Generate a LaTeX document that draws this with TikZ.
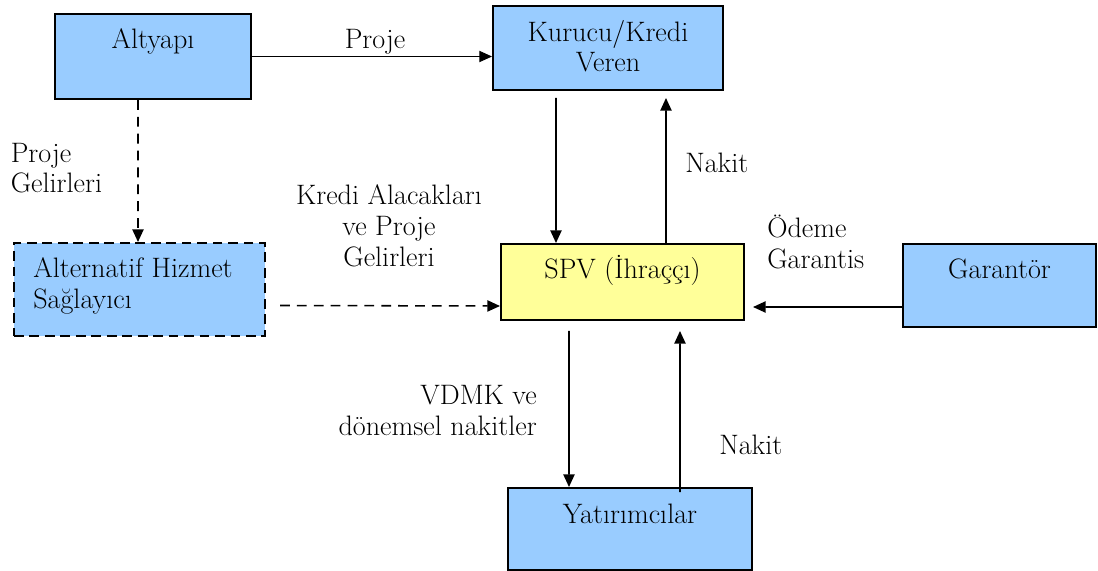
\documentclass[tikz,border=0pt]{standalone}
\usepackage{fontspec}
\usepackage{tikz}
\usetikzlibrary{positioning,calc,arrows.meta}
\definecolor{boxblue}{RGB}{153,204,255}
\definecolor{boxyellow}{RGB}{255,255,153}
\tikzset{
box/.style={draw, line width=1.4pt, fill=boxblue, inner sep=0pt},
lbl/.style={font=\fontsize{20}{22}\selectfont, inner sep=0pt},
arr/.style={-{Triangle[length=9pt,width=8pt]}, line width=1.1pt},
dsh/.style={arr, dash pattern=on 7pt off 5pt}
}
\begin{document}
\begin{tikzpicture}[x=0.025cm,y=-0.025cm]
\useasboundingbox (0,0) rectangle (1098,571);
% kutular
\node[box, minimum width=4.9cm, minimum height=2.125cm] (altyapi) at (153,56.5) {};
\node[box, minimum width=5.75cm, minimum height=2.1cm] (kurucu) at (608,48) {};
\node[box, dash pattern=on 7pt off 4pt, minimum width=6.275cm, minimum height=2.325cm] (alt) at (139.5,289.5) {};
\node[box, fill=boxyellow, minimum width=6.075cm, minimum height=1.9cm] (spv) at (622.5,282) {};
\node[box, minimum width=4.825cm, minimum height=2.075cm] (garantor) at (999.5,285.5) {};
\node[box, minimum width=6.1cm, minimum height=2.05cm] (yatirim) at (630,529) {};
% kutu yazilari (cok satirlida base = son satir)
\node[lbl, anchor=base] (tAltyapi) at (153,49) {Altyapı};
\node[lbl, anchor=base, align=center] (tKurucu) at (608,72) {Kurucu/Kredi\\Veren};
\node[lbl, anchor=base west, align=left] (tAlt) at (33,308) {Alternatif Hizmet\\Sağlayıcı};
\node[lbl, anchor=base] (tSpv) at (622.5,278) {SPV (İhraççı)};
\node[lbl, anchor=base] (tGarantor) at (999.5,278) {Garantör};
\node[lbl, anchor=base] (tYatirim) at (630,523) {Yatırımcılar};
% oklar
\draw[arr, line width=0.7pt] (altyapi.east) -- (altyapi.east -| kurucu.west);
\draw[dsh] ($(altyapi.south west)+(84,0)$) -- ($(alt.north west)+(125,0)$);
\draw[dsh] ($(alt.east)+(14,16)$) -- ($(spv.west)+(0,24)$);
\draw[arr] ($(kurucu.south west)+(64,7)$) -- ($(spv.north west)+(56,0)$);
\draw[arr] ($(spv.north west)+(166,0)$) -- ($(kurucu.south west)+(174,7)$);
\draw[arr] ($(garantor.west)+(0,21.5)$) -- ($(spv.east)+(8,25)$);
\draw[arr] ($(spv.south west)+(69,10)$) -- ($(yatirim.north west)+(62,0)$);
\draw[arr] ($(yatirim.north west)+(173,5)$) -- ($(spv.south west)+(180,10)$);
% ok yazilari
\node[lbl, anchor=base] (lProje) at (375,49) {Proje};
\node[lbl, anchor=base west, align=left] (lGelir) at (10.5,193) {Proje\\Gelirleri};
\node[lbl, anchor=base, align=center] (lKredi) at (389,266) {Kredi Alacakları\\ve Proje\\Gelirleri};
\node[lbl, anchor=base west] (lNakit) at (685,173) {Nakit};
\node[lbl, anchor=base west, align=left] (lOdeme) at (767,268) {Ödeme\\Garantis};
\node[lbl, anchor=base east, align=right] (lVdmk) at (537,435) {VDMK ve\\dönemsel nakitler};
\node[lbl, anchor=base west] (lNakit2) at (719,454) {Nakit};
\end{tikzpicture}
\end{document}
